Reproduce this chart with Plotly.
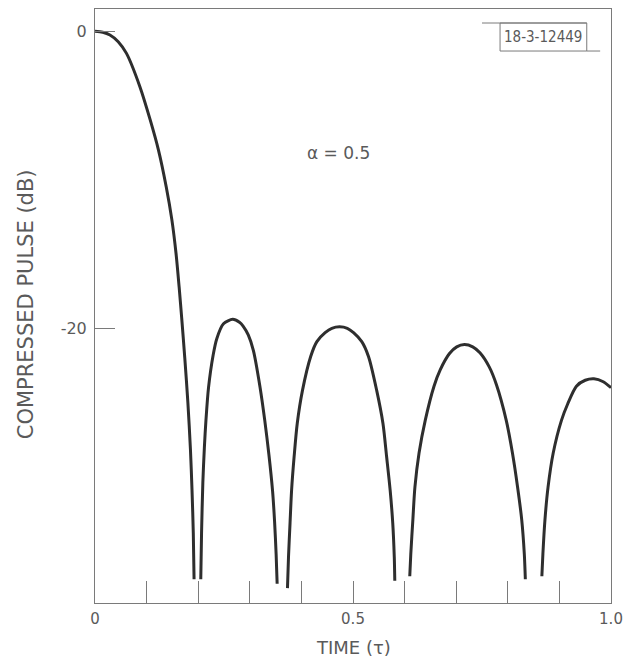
import plotly.graph_objects as go

# ---- data (time in units of tau, level in dB) ----
main_t = [0.0, 0.015, 0.029, 0.045, 0.061, 0.087, 0.107, 0.123, 0.138, 0.149, 0.157, 0.163, 0.168, 0.174, 0.180, 0.185, 0.188, 0.1905, 0.192]
main_db = [0.0, -0.07, -0.25, -0.7, -1.49, -3.73, -5.97, -8.0, -10.47, -12.7, -14.95, -17.2, -19.3, -22.0, -25.0, -28.2, -30.9, -33.8, -36.9]

lobe1_t = [0.205, 0.2065, 0.209, 0.212, 0.215, 0.220, 0.229, 0.236, 0.249, 0.267, 0.280, 0.287, 0.297, 0.307, 0.320, 0.329, 0.337, 0.344, 0.348, 0.351, 0.353]
lobe1_db = [-36.9, -33.8, -30.4, -28.0, -26.2, -24.0, -21.8, -20.7, -19.7, -19.4, -19.6, -19.85, -20.45, -21.5, -24.0, -26.2, -28.5, -30.9, -33.0, -35.2, -37.2]

lobe2_t = [0.373, 0.375, 0.378, 0.381, 0.386, 0.392, 0.402, 0.418, 0.430, 0.446, 0.459, 0.474, 0.489, 0.501, 0.517, 0.530, 0.546, 0.558, 0.565, 0.572, 0.577, 0.580, 0.581]
lobe2_db = [-37.5, -35.4, -33.1, -30.9, -28.6, -26.4, -24.2, -21.9, -20.9, -20.3, -20.0, -19.9, -20.0, -20.3, -20.9, -21.9, -24.2, -26.4, -28.6, -30.9, -33.1, -35.4, -37.0]

lobe3_t = [0.610, 0.612, 0.616, 0.620, 0.628, 0.640, 0.657, 0.669, 0.687, 0.701, 0.716, 0.732, 0.746, 0.764, 0.778, 0.797, 0.809, 0.819, 0.827, 0.832, 0.834]
lobe3_db = [-36.7, -35.2, -32.9, -30.7, -28.4, -26.2, -23.9, -22.8, -21.7, -21.25, -21.1, -21.25, -21.65, -22.6, -23.8, -26.2, -28.4, -30.7, -32.9, -35.2, -36.9]

lobe4_t = [0.866, 0.868, 0.872, 0.878, 0.888, 0.904, 0.916, 0.933, 0.950, 0.967, 0.985, 1.0]
lobe4_db = [-36.7, -35.2, -32.9, -30.7, -28.4, -26.2, -25.1, -23.9, -23.5, -23.4, -23.6, -24.0]

x_tick_vals = [0.0, 0.1, 0.2, 0.3, 0.4, 0.5, 0.6, 0.7, 0.8, 0.9, 1.0]
x_tick_text = ["0", "", "", "", "", "0.5", "", "", "", "", "1.0"]
y_tick_vals = [0, -20]
y_tick_text = ["0", "-20"]

x_title = "TIME (τ)"
y_title = "COMPRESSED PULSE (dB)"
param_label = "α = 0.5"
figure_id = "18-3-12449"

lobes = [(main_t, main_db), (lobe1_t, lobe1_db), (lobe2_t, lobe2_db),
         (lobe3_t, lobe3_db), (lobe4_t, lobe4_db)]

INK = "#2e2e2e"
AXIS = "#7a7a7a"
TEXT = "#5a5a5a"
FONT = "DejaVu Sans"

fig = go.Figure()
for t, db in lobes:
    fig.add_trace(go.Scatter(
        x=t, y=db, mode="lines",
        line=dict(color=INK, width=3, shape="spline", smoothing=0.8),
        hoverinfo="skip", showlegend=False,
    ))

fig.update_layout(
    width=627, height=661, autosize=False,
    margin=dict(l=95, r=16, t=9, b=58, autoexpand=False),
    paper_bgcolor="white", plot_bgcolor="white",
    font=dict(family=FONT, color=TEXT, size=14),
    showlegend=False,
)

fig.update_xaxes(
    range=[0, 1], showgrid=False, zeroline=False, automargin=False,
    showline=True, linecolor=AXIS, linewidth=1, mirror=True,
    ticks="inside", ticklen=22, tickcolor=AXIS, tickwidth=1,
    tickvals=x_tick_vals, ticktext=x_tick_text,
    tickfont=dict(family=FONT, size=15, color=TEXT),
    ticklabelstandoff=2,
)
fig.update_yaxes(
    range=[-38.5, 1.5], showgrid=False, zeroline=False, automargin=False,
    showline=True, linecolor=AXIS, linewidth=1, mirror=True,
    ticks="inside", ticklen=20, tickcolor=AXIS, tickwidth=1,
    tickvals=y_tick_vals, ticktext=y_tick_text,
    tickfont=dict(family=FONT, size=16, color=TEXT),
    ticklabelstandoff=4,
)

# axis titles and labels
fig.add_annotation(text=x_title, xref="paper", yref="paper", x=0.5, y=0,
                   yshift=-44, showarrow=False, xanchor="center", yanchor="middle",
                   font=dict(family=FONT, size=18, color=TEXT))
fig.add_annotation(text=y_title, xref="paper", yref="paper", x=0, y=0.503,
                   xshift=-69, textangle=-90, showarrow=False,
                   xanchor="center", yanchor="middle",
                   font=dict(family=FONT, size=21, color=TEXT))
fig.add_annotation(text=param_label, x=0.471, y=-8.2, showarrow=False,
                   font=dict(family=FONT, size=17, color=TEXT))

# figure-number box in the upper right corner
fig.add_shape(type="line", x0=0.75, x1=0.953, y0=0.557, y1=0.557,
              line=dict(color=AXIS, width=1))
fig.add_shape(type="rect", x0=0.785, x1=0.953, y0=-1.33, y1=0.557,
              line=dict(color=AXIS, width=1))
fig.add_shape(type="line", x0=0.953, x1=0.979, y0=-1.33, y1=-1.33,
              line=dict(color=AXIS, width=1))
fig.add_annotation(text=figure_id, x=0.869, y=-0.39, showarrow=False,
                   font=dict(family="DejaVu Sans Condensed", size=15, color=TEXT))

# remove the default 8px page margin so the figure fills the window exactly
fig.write_html("out.html",
               config={"displayModeBar": False, "responsive": False},
               post_script="document.body.style.margin='0';document.body.style.overflow='hidden';")
